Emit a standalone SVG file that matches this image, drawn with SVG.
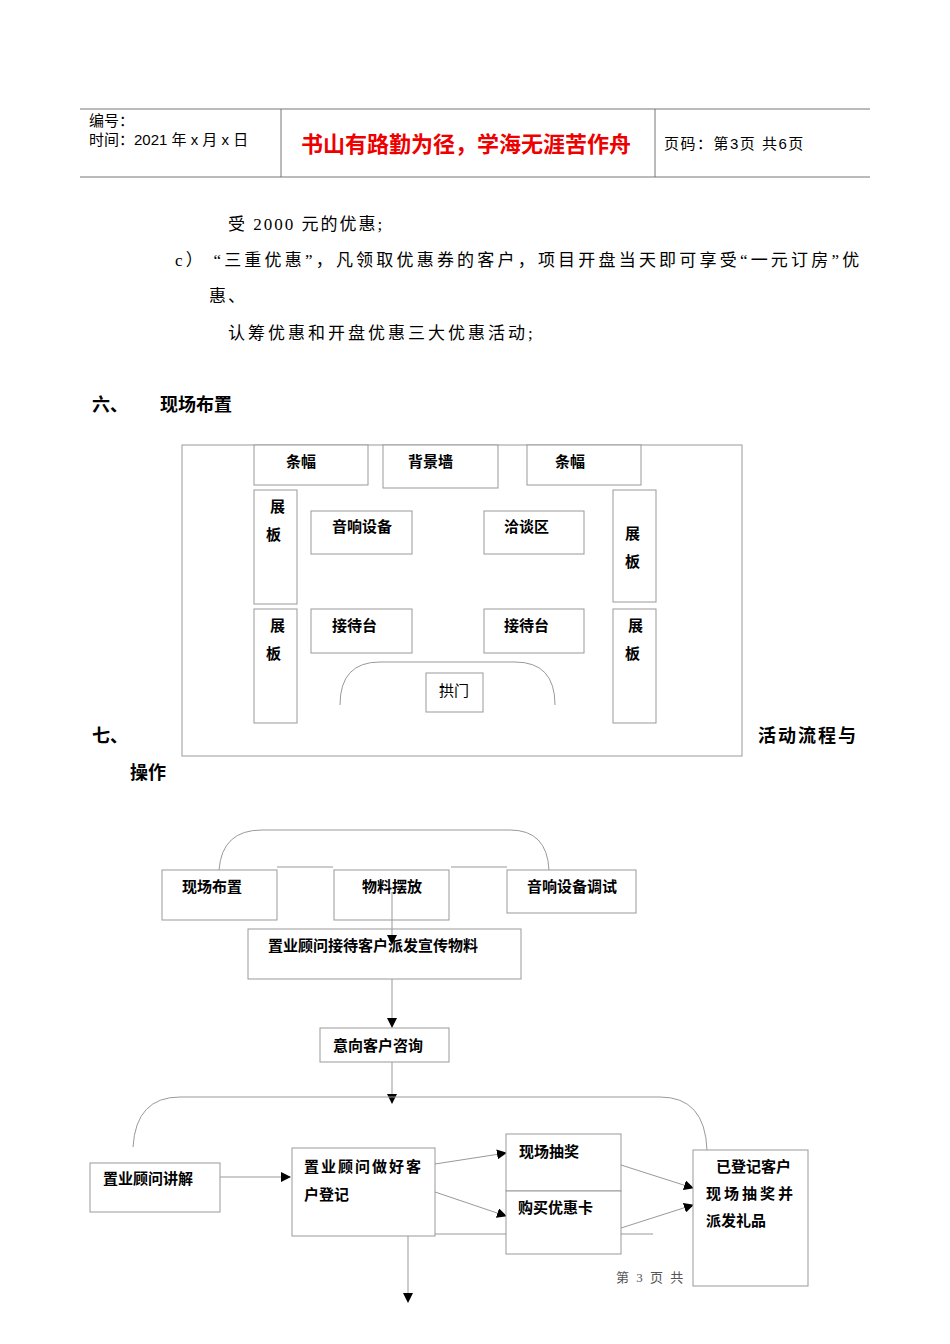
<svg xmlns="http://www.w3.org/2000/svg" width="950" height="1344" viewBox="0 0 950 1344">
<style>
.b{fill:#fff;stroke:#999;stroke-width:1}
.l{fill:none;stroke:#999;stroke-width:1}
.t{font-family:"Liberation Sans","Noto Sans CJK SC",sans-serif;font-size:15px;fill:#000}
.tb{font-family:"Liberation Sans","Noto Sans CJK SC",sans-serif;font-size:15px;font-weight:bold;fill:#000}
.h{font-family:"Liberation Sans","Noto Sans CJK SC",sans-serif;font-size:18px;font-weight:bold;fill:#000}
.s{font-family:"Liberation Serif","Noto Sans CJK SC",serif;font-size:17px;fill:#000}
</style>
<defs><marker id="a" markerWidth="10" markerHeight="10" refX="9" refY="5" orient="auto" markerUnits="userSpaceOnUse"><path d="M0,0 L10,5 L0,10 Z" fill="#000"/></marker></defs>
<rect width="950" height="1344" fill="#fff"/>
<g id="header">
<line x1="80" y1="109" x2="870" y2="109" stroke="#777"/>
<line x1="80" y1="177" x2="870" y2="177" stroke="#777"/>
<line x1="281" y1="109" x2="281" y2="177" stroke="#777"/>
<line x1="655" y1="109" x2="655" y2="177" stroke="#777"/>
<text class="t" x="89" y="126">编号：</text>
<text class="t" x="89" y="145" font-size="16">时间：2021 年 x 月 x 日</text>
<text x="301" y="152" font-family="Liberation Sans,Noto Sans CJK SC,sans-serif" font-size="22" font-weight="bold" fill="#e00">书山有路勤为径，学海无涯苦作舟</text>
<text class="t" x="664" y="149" letter-spacing="1.5">页码：第3页 共6页</text>
</g>
<g id="body">
<text class="s" x="228" y="230" letter-spacing="2">受 2000 元的优惠;</text>
<text class="s" x="175" y="266" letter-spacing="3.2">c）  “三重优惠”，凡领取优惠券的客户，项目开盘当天即可享受“一元订房”优</text>
<text class="s" x="209" y="302" letter-spacing="2">惠、</text>
<text class="s" x="228" y="339" letter-spacing="3">认筹优惠和开盘优惠三大优惠活动;</text>
<text class="h" x="92" y="411">六、</text>
<text class="h" x="160" y="411">现场布置</text>
<text class="h" x="92" y="742">七、</text>
<text class="h" x="758" y="742" letter-spacing="2">活动流程与</text>
<text class="h" x="130" y="779">操作</text>
</g>
<g id="plan">
<rect class="b" x="182" y="445" width="560" height="311"/>
<rect class="b" x="254" y="445" width="114" height="40"/><text class="tb" x="286" y="467">条幅</text>
<rect class="b" x="383" y="445" width="115" height="43"/><text class="tb" x="408" y="467">背景墙</text>
<rect class="b" x="527" y="445" width="114" height="40"/><text class="tb" x="555" y="467">条幅</text>
<rect class="b" x="254" y="490" width="43" height="114"/><text class="tb" x="270" y="512">展</text><text class="tb" x="266" y="540">板</text>
<rect class="b" x="311" y="511" width="101" height="43"/><text class="tb" x="332" y="532">音响设备</text>
<rect class="b" x="484" y="511" width="100" height="43"/><text class="tb" x="504" y="532">洽谈区</text>
<rect class="b" x="613" y="490" width="43" height="112"/><text class="tb" x="625" y="539">展</text><text class="tb" x="625" y="567">板</text>
<rect class="b" x="254" y="609" width="43" height="114"/><text class="tb" x="270" y="631">展</text><text class="tb" x="266" y="659">板</text>
<rect class="b" x="311" y="609" width="101" height="44"/><text class="tb" x="332" y="631">接待台</text>
<rect class="b" x="484" y="609" width="100" height="44"/><text class="tb" x="504" y="631">接待台</text>
<rect class="b" x="613" y="609" width="43" height="114"/><text class="tb" x="628" y="631">展</text><text class="tb" x="625" y="659">板</text>
<path class="l" d="M340,705 Q340,662 380,662 L515,662 Q555,662 555,705"/>
<rect class="b" x="426" y="673" width="57" height="39"/><text class="t" x="439" y="696">拱门</text>
</g>
<g id="connectors">
<path class="l" d="M219,870 Q222,830 262,830 L510,830 Q547,830 549,870"/>
<line class="l" x1="277" y1="867" x2="333" y2="867"/>
<line class="l" x1="451" y1="867" x2="507" y2="867"/>
<line class="l" x1="392" y1="892" x2="392" y2="944" marker-end="url(#a)"/>
<line class="l" x1="392" y1="979" x2="392" y2="1027" marker-end="url(#a)"/>
<line class="l" x1="392" y1="1062" x2="392" y2="1103" marker-end="url(#a)"/>
<path class="l" d="M133,1147 Q136,1097 180,1097 L660,1097 Q705,1097 707,1150"/>
<line class="l" x1="220" y1="1177" x2="290" y2="1177" marker-end="url(#a)"/>
<line class="l" x1="435" y1="1164" x2="506" y2="1153" marker-end="url(#a)"/>
<line class="l" x1="435" y1="1192" x2="506" y2="1216" marker-end="url(#a)"/>
<line class="l" x1="621" y1="1165" x2="693" y2="1188" marker-end="url(#a)"/>
<line class="l" x1="621" y1="1228" x2="693" y2="1205" marker-end="url(#a)"/>
<polyline class="l" points="653,1234 408,1234 408,1302" marker-end="url(#a)"/>
</g>
<g id="n1"><rect class="b" x="162" y="870" width="115" height="50"/><text class="tb" x="182" y="892">现场布置</text></g>
<g id="n2"><rect class="b" x="334" y="870" width="115" height="50" fill-opacity="0"/><text class="tb" x="362" y="892">物料摆放</text></g>
<g id="n3"><rect class="b" x="507" y="870" width="129" height="43"/><text class="tb" x="527" y="892">音响设备调试</text></g>
<g id="n4"><rect class="b" x="248" y="929" width="273" height="50" fill-opacity="0"/><text class="tb" x="268" y="951">置业顾问接待客户派发宣传物料</text></g>
<g id="n5"><rect class="b" x="320" y="1028" width="129" height="34"/><text class="tb" x="333" y="1051">意向客户咨询</text></g>
<g id="n6"><rect class="b" x="90" y="1163" width="130" height="49"/><text class="tb" x="103" y="1184">置业顾问讲解</text></g>
<g id="n7"><rect class="b" x="292" y="1148" width="143" height="88"/><text class="tb" x="304" y="1172" letter-spacing="2">置业顾问做好客</text><text class="tb" x="304" y="1200">户登记</text></g>
<g id="n8"><rect class="b" x="506" y="1134" width="115" height="57"/><text class="tb" x="519" y="1157">现场抽奖</text></g>
<g id="n9"><rect class="b" x="506" y="1191" width="115" height="63"/><text class="tb" x="518" y="1213">购买优惠卡</text></g>
<g id="n10"><rect class="b" x="693" y="1150" width="115" height="136"/><text class="tb" x="716" y="1172">已登记客户</text><text class="tb" x="706" y="1199" letter-spacing="3">现场抽奖并</text><text class="tb" x="706" y="1226">派发礼品</text></g>
<text x="616" y="1282" font-family="Liberation Serif,Noto Sans CJK SC,serif" font-size="13" fill="#555" letter-spacing="2">第 3 页 共</text>
</svg>
